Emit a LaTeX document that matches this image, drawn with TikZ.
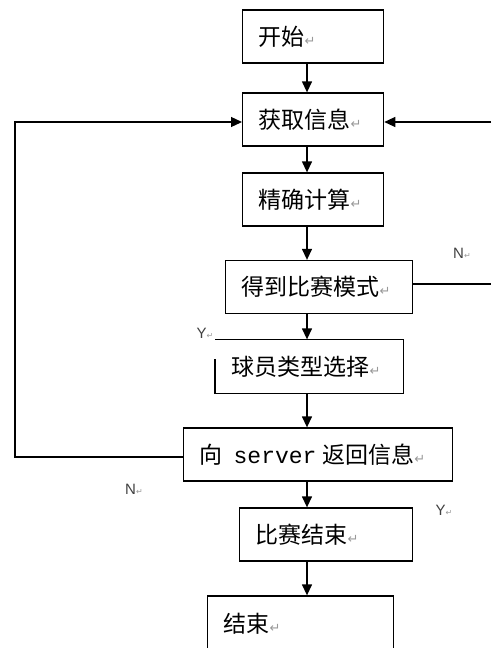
\documentclass[tikz,border=0pt]{standalone}
\usepackage{fontspec}
\usetikzlibrary{arrows.meta}
\newfontfamily\cjk{Noto Sans CJK SC}
\newfontfamily\monof{Liberation Mono}
\newfontfamily\symf{DejaVu Sans}
\newfontfamily\labf{Liberation Sans}
\newcommand{\pmark}{{\symf\fontsize{13}{13}\selectfont\color{black!40}↵}}
\newcommand{\smark}{{\symf\fontsize{8}{8}\selectfont\color{black!40}↵}}
\begin{document}
\begin{tikzpicture}[x=1pt,y=-1pt,
  box/.style={draw, line width=1.3pt, rectangle, anchor=west, minimum height=53pt,
    inner xsep=16pt, inner ysep=0pt, align=left, font=\cjk\fontsize{23}{27}\selectfont},
  arr/.style={line width=1.3pt, -{Triangle[length=11pt,width=10pt]}},
  ln/.style={line width=1.3pt},
  lbl/.style={font=\labf\fontsize{15}{15}\selectfont, text=black!75, inner sep=0pt}]
\useasboundingbox (0,0) rectangle (491,648);
\clip (0,0) rectangle (491,648);
\fill[white] (0,0) rectangle (491,648);

\node[box, text width=109pt] (b1) at (242,36.5) {开始\pmark};
\node[box, text width=109pt] (b2) at (242,119.5) {获取信息\pmark};
\node[box, text width=109pt] (b3) at (242,199.5) {精确计算\pmark};
\node[box, text width=155pt] (b4) at (225,287) {得到比赛模式\pmark};
\node[box, draw=none, text width=155pt] (b5) at (215,366.5) {球员类型选择\pmark};
\node[box, text width=237pt] (b6) at (183,454.5) {向\hspace{11pt}{\monof server}\hspace{6pt}返回信息\pmark};
\node[box, text width=141pt] (b7) at (239,534.5) {比赛结束\pmark};
\node[box, text width=154pt, minimum height=55pt] (b8) at (207,623.5) {结束\pmark};

\draw[ln] ([yshift=-20pt]b5.north west) -- (b5.south west) -- (b5.south east)
  -- (b5.north east) -- (b5.north west);

\coordinate (ax) at (307,0);
\draw[arr] (b1.south -| ax) -- (b2.north -| ax);
\draw[arr] (b2.south -| ax) -- (b3.north -| ax);
\draw[arr] (b3.south -| ax) -- (b4.north -| ax);
\draw[arr] (b4.south -| ax) -- (b5.north -| ax);
\draw[arr] (b5.south -| ax) -- (b6.north -| ax);
\draw[arr] (b6.south -| ax) -- (b7.north -| ax);
\draw[arr] (b7.south -| ax) -- (b8.north -| ax);

\coordinate (lc) at (15,457);
\coordinate (rin) at (491,122);
\coordinate (rout) at (491,284);
\draw[arr] (b6.west |- lc) -- (lc) |- (b2.west |- rin);
\draw[arr] (rin) -- (b2.east |- rin);
\draw[ln] (b4.east |- rout) -- (rout);

\node[lbl] (n1) at (462,253) {N\smark};
\node[lbl] (y1) at (205,333) {Y\smark};
\node[lbl] (n2) at (134,489) {N\smark};
\node[lbl] (y2) at (444,510) {Y\smark};
\end{tikzpicture}
\end{document}
